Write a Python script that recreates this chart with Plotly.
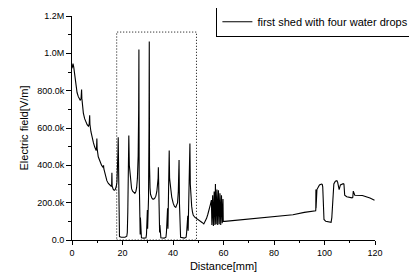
import plotly.graph_objects as go

# Distance [mm]
distance = [
    0.0, 0.2, 0.4, 0.7, 1.0, 1.5, 2.0, 2.5, 3.0, 3.3, 3.6, 3.8, 3.9, 4.2, 4.5, 5.0, 5.5, 6.0, 6.5, 6.8,
    7.0, 7.1, 7.5, 8.0, 8.5, 9.0, 9.5, 9.7, 9.85, 9.95, 10.4, 11.0, 11.7, 12.3, 12.5, 12.6, 12.8, 13.3,
    13.8, 14.4, 15.0, 15.5, 15.7, 15.8, 15.9, 16.3, 16.7, 17.1, 17.5, 17.8, 18.0, 18.2, 18.3, 18.45,
    18.6, 18.8, 19.5, 21.0, 21.7, 21.9, 22.1, 22.3, 22.5, 22.7, 22.9, 23.0, 23.2, 23.6, 24.0, 24.5,
    24.9, 25.3, 25.6, 25.9, 26.2, 26.4, 26.5, 26.6, 26.7, 26.8, 26.9, 27.0, 27.1, 27.25, 27.5, 28.5,
    29.3, 29.5, 29.6, 29.7, 29.85, 29.95, 30.1, 30.3, 30.5, 30.6, 30.7, 30.9, 31.1, 31.6, 32.1, 32.7,
    33.2, 33.6, 33.9, 34.1, 34.2, 34.35, 34.6, 34.7, 34.8, 34.9, 35.2, 36.5, 37.2, 37.4, 37.55, 37.7,
    37.85, 38.0, 38.15, 38.35, 38.5, 38.65, 39.0, 39.5, 40.1, 40.6, 41.1, 41.5, 41.8, 42.1, 42.4,
    42.55, 42.7, 42.8, 42.9, 43.0, 44.5, 45.2, 45.4, 45.55, 45.7, 45.85, 46.0, 46.2, 46.5, 46.7,
    46.85, 47.1, 47.4, 47.7, 48.0, 48.6, 49.3, 50.0, 50.6, 51.5, 52.2, 52.8, 53.3, 53.8, 54.3, 54.8,
    55.2, 55.4, 55.7, 56.0, 56.3, 56.6, 56.8, 57.1, 57.4, 57.7, 58.0, 58.3, 58.6, 58.9, 59.2, 59.5,
    59.8, 59.9, 60.5, 62.0, 64.0, 67.7, 70.0, 74.3, 80.0, 87.5, 92.0, 96.5, 96.55, 96.6, 96.65,
    97.0, 97.4, 98.0, 98.8, 99.1, 99.3, 99.5, 99.8, 100.5, 101.5, 102.3, 102.6, 102.9, 103.3, 103.7,
    104.3, 104.9, 105.2, 105.5, 105.8, 106.3, 107.0, 107.4, 107.7, 108.0, 108.8, 109.9, 110.9, 111.2,
    111.4, 112.0, 115.0, 118.0, 119.8,
]

# Electric field [MV/m]
field_mv = [
    0.92, 0.94, 0.945, 0.925, 0.885, 0.83, 0.79, 0.768, 0.752, 0.748, 0.76, 0.806, 0.76, 0.71, 0.68,
    0.65, 0.632, 0.618, 0.61, 0.62, 0.668, 0.62, 0.58, 0.545, 0.52, 0.498, 0.482, 0.485, 0.544, 0.49,
    0.446, 0.42, 0.401, 0.388, 0.40, 0.382, 0.37, 0.339, 0.318, 0.303, 0.292, 0.288, 0.295, 0.36, 0.29,
    0.272, 0.266, 0.27, 0.285, 0.31, 0.36, 0.47, 0.55, 0.2, 0.03, 0.018, 0.015, 0.015, 0.02, 0.04,
    0.15, 0.35, 0.56, 0.40, 0.374, 0.34, 0.303, 0.275, 0.262, 0.252, 0.25, 0.26, 0.28, 0.33, 0.45, 0.7,
    1.02, 0.35, 0.17, 0.05, 0.16, 0.03, 0.12, 0.025, 0.012, 0.01, 0.012, 0.03, 0.12, 0.04, 0.16, 0.06,
    0.175, 0.22, 0.6, 1.064, 0.4, 0.28, 0.245, 0.225, 0.218, 0.222, 0.235, 0.26, 0.29, 0.33, 0.39, 0.2,
    0.09, 0.04, 0.08, 0.03, 0.012, 0.01, 0.015, 0.04, 0.16, 0.05, 0.17, 0.06, 0.2, 0.3, 0.48, 0.33,
    0.285, 0.23, 0.196, 0.18, 0.175, 0.185, 0.2, 0.26, 0.428, 0.2, 0.08, 0.03, 0.07, 0.015, 0.01,
    0.015, 0.04, 0.12, 0.04, 0.13, 0.05, 0.15, 0.3, 0.517, 0.3, 0.232, 0.18, 0.151, 0.134, 0.122,
    0.116, 0.108, 0.103, 0.094, 0.086, 0.1, 0.116, 0.138, 0.16, 0.19, 0.214,
    0.08, 0.24, 0.075, 0.26, 0.08, 0.3, 0.085, 0.27, 0.08, 0.267, 0.085, 0.25, 0.08, 0.24, 0.09, 0.22,
    0.1, 0.1, 0.102, 0.104, 0.106, 0.11, 0.115, 0.125, 0.135, 0.148, 0.156, 0.164, 0.27, 0.17, 0.27,
    0.28, 0.295, 0.3, 0.298, 0.285, 0.2, 0.11, 0.1, 0.098, 0.095, 0.095, 0.12, 0.25, 0.3, 0.315, 0.318,
    0.31, 0.28, 0.27, 0.295, 0.3, 0.302, 0.30, 0.24, 0.232, 0.228, 0.226, 0.228, 0.262, 0.24, 0.238,
    0.225, 0.213, 0.205,
]

series_name = "first shed with four water drops"
y_tickvals = [0, 200e3, 400e3, 600e3, 800e3, 1.0e6, 1.2e6]
y_ticktext = ["0.0", "200.0k", "400.0k", "600.0k", "800.0k", "1.0M", "1.2M"]
x_tickvals = [0, 20, 40, 60, 80, 100, 120]
box_x = [17.7, 49.3]
box_y = [0, 1.114e6]

field = [v * 1e6 for v in field_mv]

FONT = "Liberation Sans, Arial, sans-serif"

fig = go.Figure()
fig.add_trace(go.Scatter(
    x=distance, y=field, mode="lines", name=series_name,
    line=dict(color="black", width=1.1),
))

fig.add_shape(type="rect", xref="x", yref="y",
              x0=box_x[0], x1=box_x[1], y0=box_y[0], y1=box_y[1],
              line=dict(color="black", width=1, dash="1px,2px"))

# page body has an 8px default margin: figure is drawn at (8, 8)
fig.update_layout(
    width=409, height=269,
    margin=dict(l=64, r=41.5, t=7.7, b=37, autoexpand=False),
    paper_bgcolor="white", plot_bgcolor="white",
    font=dict(family=FONT, color="black", size=9),
    showlegend=True,
    legend=dict(x=1.13, xanchor="right", y=0.974, yanchor="middle",
                bordercolor="black", borderwidth=1, bgcolor="white",
                font=dict(size=11, family=FONT), itemwidth=30,
                tracegroupgap=0),
    xaxis=dict(range=[0, 120], tickvals=x_tickvals, showline=True, linecolor="black",
               linewidth=1, ticks="outside", ticklen=4, tickcolor="black",
               showgrid=False, zeroline=False, automargin=False,
               minor=dict(dtick=10, ticks="outside", ticklen=2, tickcolor="black"),
               title=dict(text="Distance[mm]", font=dict(size=11), standoff=5),
               tickfont=dict(size=9)),
    yaxis=dict(range=[0, 1.2e6], tickvals=y_tickvals, ticktext=y_ticktext, showline=True,
               linecolor="black", linewidth=1, ticks="outside", ticklen=5, tickcolor="black",
               showgrid=False, zeroline=False, automargin=False,
               minor=dict(dtick=100e3, tick0=0, ticks="outside", ticklen=3, tickcolor="black"),
               title=dict(text="Electric field[V/m]", font=dict(size=11), standoff=6),
               tickfont=dict(size=9)),
)

fig.write_html("out.html")
